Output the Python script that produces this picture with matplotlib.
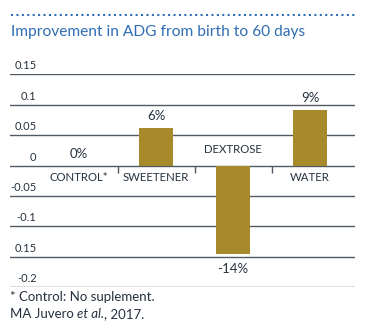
import matplotlib
matplotlib.use("Agg")
import matplotlib.pyplot as plt
from matplotlib.transforms import ScaledTranslation
from matplotlib.lines import Line2D

categories = ["CONTROL*", "SWEETENER", "DEXTROSE", "WATER"]
values = [0.0, 0.062, -0.145, 0.092]
value_labels = ["0%", "6%", "-14%", "9%"]
ytick_values = [0.15, 0.1, 0.05, 0, -0.05, -0.1, -0.15, -0.2]
ytick_labels = ["0.15", "0.1", "0.05", "0", "-0.05", "-0.1", "0.15", "-0.2"]
title = "Improvement in ADG from birth to 60 days"
note1 = "* Control: No suplement."
source_parts = ["MA Juvero ", "et al.", ", 2017."]

FONT = "Lato"
BLUE = "#2f6db5"
BAR = "#a68a2c"
GRID = "#4f5a64"
TEXT = "#26323f"

plt.rcParams["font.family"] = [FONT, "DejaVu Sans"]

W, H = 367, 336
fig = plt.figure(figsize=(W / 100, H / 100), dpi=100)
ax = fig.add_axes([10 / W, 1 - 287.3 / H, 345 / W, (287.3 - 74.3) / H])
ax.set_xlim(-0.896, 3.584)
ax.set_ylim(-0.2, 0.15)
for s in ax.spines.values():
    s.set_visible(False)

x = list(range(len(categories)))
ax.bar(x, values, width=0.44, color=BAR, zorder=3)

ax.set_yticks(ytick_values)
ax.set_yticklabels(ytick_labels, fontsize=8, color=TEXT)
ax.tick_params(axis="y", length=0, pad=0)
off = ScaledTranslation(0.265, 0.095, fig.dpi_scale_trans)
for lab in ax.get_yticklabels():
    lab.set_transform(lab.get_transform() + off)
ax.grid(axis="y", color=GRID, linewidth=1.0, zorder=1)
ax.set_xticks([])

# boundary ticks below zero line
ax.vlines([0.5, 1.5, 2.5], -0.013, 0, color=GRID, linewidth=1.0, zorder=2)

for i, (c, v, vl) in enumerate(zip(categories, values, value_labels)):
    if v < 0:
        ax.annotate(c, (i, 0), xytext=(0, 16), textcoords="offset pixels",
                    ha="center", va="center", fontsize=8.2, color=TEXT)
        ax.annotate(vl, (i, v), xytext=(0, -15), textcoords="offset pixels",
                    ha="center", va="center", fontsize=9.5, color=TEXT)
    else:
        ax.annotate(c, (i, 0), xytext=(0, -12), textcoords="offset pixels",
                    ha="center", va="center", fontsize=8.2, color=TEXT)
        ax.annotate(vl, (i, v), xytext=(0, 12), textcoords="offset pixels",
                    ha="center", va="center", fontsize=9.5, color=TEXT)

fig.text(11 / W, 1 - 32 / H, title, fontsize=11.2, color=BLUE, ha="left", va="center")
fig.add_artist(Line2D([11 / W, 355 / W], [1 - 14.7 / H] * 2, color=BLUE,
                      linewidth=1.5, linestyle=(0, (1, 1.6)), solid_capstyle="butt"))

fig.text(10 / W, 1 - 297 / H, note1, fontsize=9.5, color=TEXT, ha="left", va="center")
t1 = fig.text(10 / W, 1 - 314 / H, source_parts[0], fontsize=9.5, color=TEXT, ha="left", va="center")
t2 = fig.add_artist(plt.Annotation(source_parts[1], xy=(1, 0), xycoords=t1, ha="left", va="bottom",
                    fontsize=9.5, color=TEXT, style="italic", annotation_clip=False))
t3 = fig.add_artist(plt.Annotation(source_parts[2], xy=(1, 0), xycoords=t2, ha="left", va="bottom",
                    fontsize=9.5, color=TEXT, annotation_clip=False))

fig.savefig("out.png", dpi=100)
